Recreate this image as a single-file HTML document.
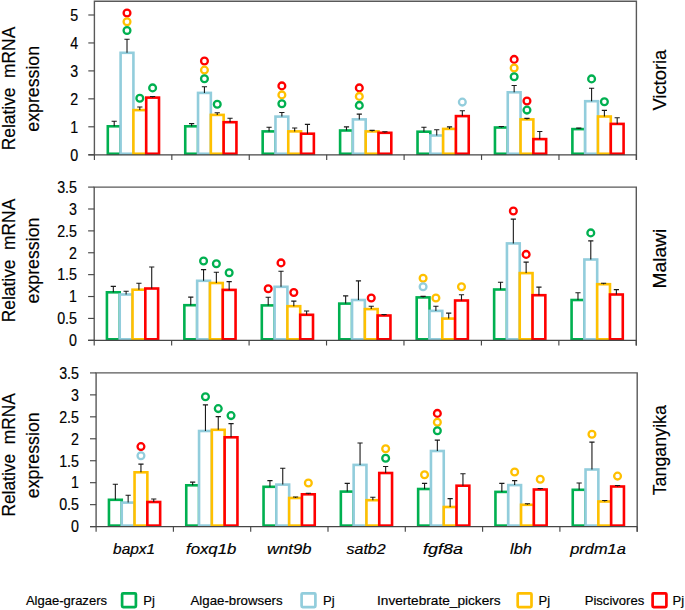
<!DOCTYPE html><html><head><meta charset="utf-8"><style>html,body{margin:0;padding:0;background:#fff;width:685px;height:610px;overflow:hidden}svg{display:block}text{font-family:"Liberation Sans",sans-serif;fill:#000;stroke:#000;stroke-width:0.18px}</style></head><body>
<svg width="685" height="610" viewBox="0 0 685 610">
<rect width="685" height="610" fill="#fff"/>
<rect x="107.81" y="126.30" width="12.80" height="27.45" fill="#fff" stroke="#00B050" stroke-width="2.6"/>
<rect x="120.61" y="52.80" width="12.80" height="100.95" fill="#fff" stroke="#92CDDC" stroke-width="2.6"/>
<rect x="133.41" y="110.10" width="12.80" height="43.65" fill="#fff" stroke="#FFC000" stroke-width="2.6"/>
<rect x="146.21" y="97.60" width="12.80" height="56.15" fill="#fff" stroke="#FF0000" stroke-width="2.6"/>
<rect x="185.24" y="126.30" width="12.80" height="27.45" fill="#fff" stroke="#00B050" stroke-width="2.6"/>
<rect x="198.04" y="92.90" width="12.80" height="60.85" fill="#fff" stroke="#92CDDC" stroke-width="2.6"/>
<rect x="210.84" y="114.90" width="12.80" height="38.85" fill="#fff" stroke="#FFC000" stroke-width="2.6"/>
<rect x="223.64" y="122.20" width="12.80" height="31.55" fill="#fff" stroke="#FF0000" stroke-width="2.6"/>
<rect x="262.67" y="131.40" width="12.80" height="22.35" fill="#fff" stroke="#00B050" stroke-width="2.6"/>
<rect x="275.47" y="116.60" width="12.80" height="37.15" fill="#fff" stroke="#92CDDC" stroke-width="2.6"/>
<rect x="288.27" y="131.40" width="12.80" height="22.35" fill="#fff" stroke="#FFC000" stroke-width="2.6"/>
<rect x="301.07" y="133.70" width="12.80" height="20.05" fill="#fff" stroke="#FF0000" stroke-width="2.6"/>
<rect x="340.10" y="130.50" width="12.80" height="23.25" fill="#fff" stroke="#00B050" stroke-width="2.6"/>
<rect x="352.90" y="119.40" width="12.80" height="34.35" fill="#fff" stroke="#92CDDC" stroke-width="2.6"/>
<rect x="365.70" y="131.40" width="12.80" height="22.35" fill="#fff" stroke="#FFC000" stroke-width="2.6"/>
<rect x="378.50" y="132.80" width="12.80" height="20.95" fill="#fff" stroke="#FF0000" stroke-width="2.6"/>
<rect x="417.53" y="131.70" width="12.80" height="22.05" fill="#fff" stroke="#00B050" stroke-width="2.6"/>
<rect x="430.33" y="135.50" width="12.80" height="18.25" fill="#fff" stroke="#92CDDC" stroke-width="2.6"/>
<rect x="443.13" y="128.90" width="12.80" height="24.85" fill="#fff" stroke="#FFC000" stroke-width="2.6"/>
<rect x="455.93" y="116.10" width="12.80" height="37.65" fill="#fff" stroke="#FF0000" stroke-width="2.6"/>
<rect x="494.96" y="127.50" width="12.80" height="26.25" fill="#fff" stroke="#00B050" stroke-width="2.6"/>
<rect x="507.76" y="92.30" width="12.80" height="61.45" fill="#fff" stroke="#92CDDC" stroke-width="2.6"/>
<rect x="520.56" y="119.40" width="12.80" height="34.35" fill="#fff" stroke="#FFC000" stroke-width="2.6"/>
<rect x="533.36" y="139.10" width="12.80" height="14.65" fill="#fff" stroke="#FF0000" stroke-width="2.6"/>
<rect x="572.39" y="129.10" width="12.80" height="24.65" fill="#fff" stroke="#00B050" stroke-width="2.6"/>
<rect x="585.19" y="101.20" width="12.80" height="52.55" fill="#fff" stroke="#92CDDC" stroke-width="2.6"/>
<rect x="597.99" y="116.50" width="12.80" height="37.25" fill="#fff" stroke="#FFC000" stroke-width="2.6"/>
<rect x="610.79" y="123.90" width="12.80" height="29.85" fill="#fff" stroke="#FF0000" stroke-width="2.6"/>
<path d="M114.21 126.30V121.30M111.61 121.30H116.81" stroke="#1a1a1a" stroke-width="1.1" fill="none"/>
<path d="M127.01 52.80V39.30M124.41 39.30H129.61" stroke="#1a1a1a" stroke-width="1.1" fill="none"/>
<path d="M139.81 110.10V107.00M137.21 107.00H142.41" stroke="#1a1a1a" stroke-width="1.1" fill="none"/>
<path d="M152.61 97.60V96.50M150.01 96.50H155.21" stroke="#1a1a1a" stroke-width="1.1" fill="none"/>
<path d="M191.64 126.30V123.60M189.04 123.60H194.24" stroke="#1a1a1a" stroke-width="1.1" fill="none"/>
<path d="M204.44 92.90V86.80M201.84 86.80H207.04" stroke="#1a1a1a" stroke-width="1.1" fill="none"/>
<path d="M217.24 114.90V112.70M214.64 112.70H219.84" stroke="#1a1a1a" stroke-width="1.1" fill="none"/>
<path d="M230.04 122.20V118.30M227.44 118.30H232.64" stroke="#1a1a1a" stroke-width="1.1" fill="none"/>
<path d="M269.07 131.40V127.20M266.47 127.20H271.67" stroke="#1a1a1a" stroke-width="1.1" fill="none"/>
<path d="M281.87 116.60V112.50M279.27 112.50H284.47" stroke="#1a1a1a" stroke-width="1.1" fill="none"/>
<path d="M294.67 131.40V128.00M292.07 128.00H297.27" stroke="#1a1a1a" stroke-width="1.1" fill="none"/>
<path d="M307.47 133.70V124.40M304.87 124.40H310.07" stroke="#1a1a1a" stroke-width="1.1" fill="none"/>
<path d="M346.50 130.50V126.90M343.90 126.90H349.10" stroke="#1a1a1a" stroke-width="1.1" fill="none"/>
<path d="M359.30 119.40V114.10M356.70 114.10H361.90" stroke="#1a1a1a" stroke-width="1.1" fill="none"/>
<path d="M372.10 131.40V130.40M369.50 130.40H374.70" stroke="#1a1a1a" stroke-width="1.1" fill="none"/>
<path d="M384.90 132.80V131.80M382.30 131.80H387.50" stroke="#1a1a1a" stroke-width="1.1" fill="none"/>
<path d="M423.93 131.70V127.20M421.33 127.20H426.53" stroke="#1a1a1a" stroke-width="1.1" fill="none"/>
<path d="M436.73 135.50V129.70M434.13 129.70H439.33" stroke="#1a1a1a" stroke-width="1.1" fill="none"/>
<path d="M449.53 128.90V126.90M446.93 126.90H452.13" stroke="#1a1a1a" stroke-width="1.1" fill="none"/>
<path d="M462.33 116.10V110.80M459.73 110.80H464.93" stroke="#1a1a1a" stroke-width="1.1" fill="none"/>
<path d="M501.36 127.50V126.50M498.76 126.50H503.96" stroke="#1a1a1a" stroke-width="1.1" fill="none"/>
<path d="M514.16 92.30V85.50M511.56 85.50H516.76" stroke="#1a1a1a" stroke-width="1.1" fill="none"/>
<path d="M526.96 119.40V118.40M524.36 118.40H529.56" stroke="#1a1a1a" stroke-width="1.1" fill="none"/>
<path d="M539.76 139.10V131.50M537.16 131.50H542.36" stroke="#1a1a1a" stroke-width="1.1" fill="none"/>
<path d="M578.79 129.10V128.10M576.19 128.10H581.39" stroke="#1a1a1a" stroke-width="1.1" fill="none"/>
<path d="M591.59 101.20V88.20M588.99 88.20H594.19" stroke="#1a1a1a" stroke-width="1.1" fill="none"/>
<path d="M604.39 116.50V110.40M601.79 110.40H606.99" stroke="#1a1a1a" stroke-width="1.1" fill="none"/>
<path d="M617.19 123.90V117.70M614.59 117.70H619.79" stroke="#1a1a1a" stroke-width="1.1" fill="none"/>
<path d="M94.4 154.75V1.3H636.4V159.95" stroke="#595959" stroke-width="1.4" fill="none"/>
<path d="M88.30 154.75H636.4" stroke="#464646" stroke-width="1.25" fill="none"/>
<path d="M88.30 154.75H94.4" stroke="#474747" stroke-width="1.15"/>
<text transform="translate(78.2 160.55) scale(0.88 1)" font-size="16.2" text-anchor="end">0</text>
<path d="M88.30 126.80H94.4" stroke="#474747" stroke-width="1.15"/>
<text transform="translate(78.2 132.60) scale(0.88 1)" font-size="16.2" text-anchor="end">1</text>
<path d="M88.30 98.85H94.4" stroke="#474747" stroke-width="1.15"/>
<text transform="translate(78.2 104.65) scale(0.88 1)" font-size="16.2" text-anchor="end">2</text>
<path d="M88.30 70.90H94.4" stroke="#474747" stroke-width="1.15"/>
<text transform="translate(78.2 76.70) scale(0.88 1)" font-size="16.2" text-anchor="end">3</text>
<path d="M88.30 42.95H94.4" stroke="#474747" stroke-width="1.15"/>
<text transform="translate(78.2 48.75) scale(0.88 1)" font-size="16.2" text-anchor="end">4</text>
<path d="M88.30 15.00H94.4" stroke="#474747" stroke-width="1.15"/>
<text transform="translate(78.2 20.80) scale(0.88 1)" font-size="16.2" text-anchor="end">5</text>
<path d="M94.40 154.75V159.95" stroke="#474747" stroke-width="1.15"/>
<path d="M171.83 154.75V159.95" stroke="#474747" stroke-width="1.15"/>
<path d="M249.26 154.75V159.95" stroke="#474747" stroke-width="1.15"/>
<path d="M326.69 154.75V159.95" stroke="#474747" stroke-width="1.15"/>
<path d="M404.11 154.75V159.95" stroke="#474747" stroke-width="1.15"/>
<path d="M481.54 154.75V159.95" stroke="#474747" stroke-width="1.15"/>
<path d="M558.97 154.75V159.95" stroke="#474747" stroke-width="1.15"/>
<path d="M636.40 154.75V159.95" stroke="#474747" stroke-width="1.15"/>
<circle cx="127.01" cy="13" r="3.4" fill="none" stroke="#FF0000" stroke-width="2.3"/>
<circle cx="127.01" cy="21.7" r="3.4" fill="none" stroke="#FFC000" stroke-width="2.3"/>
<circle cx="127.01" cy="30.5" r="3.4" fill="none" stroke="#00B050" stroke-width="2.3"/>
<circle cx="139.81" cy="98.3" r="3.4" fill="none" stroke="#00B050" stroke-width="2.3"/>
<circle cx="152.61" cy="87.9" r="3.4" fill="none" stroke="#00B050" stroke-width="2.3"/>
<circle cx="204.44" cy="61" r="3.4" fill="none" stroke="#FF0000" stroke-width="2.3"/>
<circle cx="204.44" cy="70.1" r="3.4" fill="none" stroke="#FFC000" stroke-width="2.3"/>
<circle cx="204.44" cy="78.7" r="3.4" fill="none" stroke="#00B050" stroke-width="2.3"/>
<circle cx="217.24" cy="104.3" r="3.4" fill="none" stroke="#00B050" stroke-width="2.3"/>
<circle cx="281.87" cy="85.9" r="3.4" fill="none" stroke="#FF0000" stroke-width="2.3"/>
<circle cx="281.87" cy="94.9" r="3.4" fill="none" stroke="#FFC000" stroke-width="2.3"/>
<circle cx="281.87" cy="103.8" r="3.4" fill="none" stroke="#00B050" stroke-width="2.3"/>
<circle cx="359.30" cy="87.9" r="3.4" fill="none" stroke="#FF0000" stroke-width="2.3"/>
<circle cx="359.30" cy="96.4" r="3.4" fill="none" stroke="#FFC000" stroke-width="2.3"/>
<circle cx="359.30" cy="105.4" r="3.4" fill="none" stroke="#00B050" stroke-width="2.3"/>
<circle cx="462.33" cy="102.1" r="3.4" fill="none" stroke="#92CDDC" stroke-width="2.3"/>
<circle cx="514.16" cy="59.4" r="3.4" fill="none" stroke="#FF0000" stroke-width="2.3"/>
<circle cx="514.16" cy="68" r="3.4" fill="none" stroke="#FFC000" stroke-width="2.3"/>
<circle cx="514.16" cy="76.7" r="3.4" fill="none" stroke="#00B050" stroke-width="2.3"/>
<circle cx="526.96" cy="101" r="3.4" fill="none" stroke="#FF0000" stroke-width="2.3"/>
<circle cx="526.96" cy="110.1" r="3.4" fill="none" stroke="#00B050" stroke-width="2.3"/>
<circle cx="591.59" cy="78.9" r="3.4" fill="none" stroke="#00B050" stroke-width="2.3"/>
<circle cx="604.39" cy="101.8" r="3.4" fill="none" stroke="#00B050" stroke-width="2.3"/>
<text transform="translate(15.0 88.5) rotate(-90)" font-size="17.5" text-anchor="middle" textLength="123.4" lengthAdjust="spacingAndGlyphs">Relative&#160;&#160;mRNA</text>
<text transform="translate(38.5 88.8) rotate(-90)" font-size="17.5" text-anchor="middle" textLength="85.8" lengthAdjust="spacingAndGlyphs">expression</text>
<text transform="translate(666.2 80.15) rotate(-90)" font-size="17.8" text-anchor="middle" textLength="60.8" lengthAdjust="spacingAndGlyphs">Victoria</text>
<rect x="106.92" y="292.30" width="12.80" height="47.00" fill="#fff" stroke="#00B050" stroke-width="2.6"/>
<rect x="119.72" y="294.50" width="12.80" height="44.80" fill="#fff" stroke="#92CDDC" stroke-width="2.6"/>
<rect x="132.52" y="289.70" width="12.80" height="49.60" fill="#fff" stroke="#FFC000" stroke-width="2.6"/>
<rect x="145.32" y="288.50" width="12.80" height="50.80" fill="#fff" stroke="#FF0000" stroke-width="2.6"/>
<rect x="184.36" y="305.20" width="12.80" height="34.10" fill="#fff" stroke="#00B050" stroke-width="2.6"/>
<rect x="197.16" y="280.80" width="12.80" height="58.50" fill="#fff" stroke="#92CDDC" stroke-width="2.6"/>
<rect x="209.96" y="283.00" width="12.80" height="56.30" fill="#fff" stroke="#FFC000" stroke-width="2.6"/>
<rect x="222.76" y="289.90" width="12.80" height="49.40" fill="#fff" stroke="#FF0000" stroke-width="2.6"/>
<rect x="261.81" y="305.40" width="12.80" height="33.90" fill="#fff" stroke="#00B050" stroke-width="2.6"/>
<rect x="274.61" y="286.80" width="12.80" height="52.50" fill="#fff" stroke="#92CDDC" stroke-width="2.6"/>
<rect x="287.41" y="306.20" width="12.80" height="33.10" fill="#fff" stroke="#FFC000" stroke-width="2.6"/>
<rect x="300.21" y="314.80" width="12.80" height="24.50" fill="#fff" stroke="#FF0000" stroke-width="2.6"/>
<rect x="339.25" y="303.60" width="12.80" height="35.70" fill="#fff" stroke="#00B050" stroke-width="2.6"/>
<rect x="352.05" y="300.00" width="12.80" height="39.30" fill="#fff" stroke="#92CDDC" stroke-width="2.6"/>
<rect x="364.85" y="309.10" width="12.80" height="30.20" fill="#fff" stroke="#FFC000" stroke-width="2.6"/>
<rect x="377.65" y="315.50" width="12.80" height="23.80" fill="#fff" stroke="#FF0000" stroke-width="2.6"/>
<rect x="416.69" y="297.40" width="12.80" height="41.90" fill="#fff" stroke="#00B050" stroke-width="2.6"/>
<rect x="429.49" y="310.90" width="12.80" height="28.40" fill="#fff" stroke="#92CDDC" stroke-width="2.6"/>
<rect x="442.29" y="318.60" width="12.80" height="20.70" fill="#fff" stroke="#FFC000" stroke-width="2.6"/>
<rect x="455.09" y="300.50" width="12.80" height="38.80" fill="#fff" stroke="#FF0000" stroke-width="2.6"/>
<rect x="494.14" y="289.50" width="12.80" height="49.80" fill="#fff" stroke="#00B050" stroke-width="2.6"/>
<rect x="506.94" y="243.40" width="12.80" height="95.90" fill="#fff" stroke="#92CDDC" stroke-width="2.6"/>
<rect x="519.74" y="273.10" width="12.80" height="66.20" fill="#fff" stroke="#FFC000" stroke-width="2.6"/>
<rect x="532.54" y="295.20" width="12.80" height="44.10" fill="#fff" stroke="#FF0000" stroke-width="2.6"/>
<rect x="571.58" y="300.00" width="12.80" height="39.30" fill="#fff" stroke="#00B050" stroke-width="2.6"/>
<rect x="584.38" y="259.50" width="12.80" height="79.80" fill="#fff" stroke="#92CDDC" stroke-width="2.6"/>
<rect x="597.18" y="284.20" width="12.80" height="55.10" fill="#fff" stroke="#FFC000" stroke-width="2.6"/>
<rect x="609.98" y="294.50" width="12.80" height="44.80" fill="#fff" stroke="#FF0000" stroke-width="2.6"/>
<path d="M113.32 292.30V286.40M110.72 286.40H115.92" stroke="#1a1a1a" stroke-width="1.1" fill="none"/>
<path d="M126.12 294.50V291.30M123.52 291.30H128.72" stroke="#1a1a1a" stroke-width="1.1" fill="none"/>
<path d="M138.92 289.70V283.30M136.32 283.30H141.52" stroke="#1a1a1a" stroke-width="1.1" fill="none"/>
<path d="M151.72 288.50V267.00M149.12 267.00H154.32" stroke="#1a1a1a" stroke-width="1.1" fill="none"/>
<path d="M190.76 305.20V297.10M188.16 297.10H193.36" stroke="#1a1a1a" stroke-width="1.1" fill="none"/>
<path d="M203.56 280.80V269.60M200.96 269.60H206.16" stroke="#1a1a1a" stroke-width="1.1" fill="none"/>
<path d="M216.36 283.00V272.20M213.76 272.20H218.96" stroke="#1a1a1a" stroke-width="1.1" fill="none"/>
<path d="M229.16 289.90V281.60M226.56 281.60H231.76" stroke="#1a1a1a" stroke-width="1.1" fill="none"/>
<path d="M268.21 305.40V297.30M265.61 297.30H270.81" stroke="#1a1a1a" stroke-width="1.1" fill="none"/>
<path d="M281.01 286.80V271.30M278.41 271.30H283.61" stroke="#1a1a1a" stroke-width="1.1" fill="none"/>
<path d="M293.81 306.20V301.10M291.21 301.10H296.41" stroke="#1a1a1a" stroke-width="1.1" fill="none"/>
<path d="M306.61 314.80V311.00M304.01 311.00H309.21" stroke="#1a1a1a" stroke-width="1.1" fill="none"/>
<path d="M345.65 303.60V295.90M343.05 295.90H348.25" stroke="#1a1a1a" stroke-width="1.1" fill="none"/>
<path d="M358.45 300.00V280.90M355.85 280.90H361.05" stroke="#1a1a1a" stroke-width="1.1" fill="none"/>
<path d="M371.25 309.10V306.20M368.65 306.20H373.85" stroke="#1a1a1a" stroke-width="1.1" fill="none"/>
<path d="M384.05 315.50V314.50M381.45 314.50H386.65" stroke="#1a1a1a" stroke-width="1.1" fill="none"/>
<path d="M423.09 297.40V296.40M420.49 296.40H425.69" stroke="#1a1a1a" stroke-width="1.1" fill="none"/>
<path d="M435.89 310.90V306.20M433.29 306.20H438.49" stroke="#1a1a1a" stroke-width="1.1" fill="none"/>
<path d="M448.69 318.60V313.10M446.09 313.10H451.29" stroke="#1a1a1a" stroke-width="1.1" fill="none"/>
<path d="M461.49 300.50V294.70M458.89 294.70H464.09" stroke="#1a1a1a" stroke-width="1.1" fill="none"/>
<path d="M500.54 289.50V282.20M497.94 282.20H503.14" stroke="#1a1a1a" stroke-width="1.1" fill="none"/>
<path d="M513.34 243.40V219.10M510.74 219.10H515.94" stroke="#1a1a1a" stroke-width="1.1" fill="none"/>
<path d="M526.14 273.10V262.10M523.54 262.10H528.74" stroke="#1a1a1a" stroke-width="1.1" fill="none"/>
<path d="M538.94 295.20V287.10M536.34 287.10H541.54" stroke="#1a1a1a" stroke-width="1.1" fill="none"/>
<path d="M577.98 300.00V292.70M575.38 292.70H580.58" stroke="#1a1a1a" stroke-width="1.1" fill="none"/>
<path d="M590.78 259.50V240.90M588.18 240.90H593.38" stroke="#1a1a1a" stroke-width="1.1" fill="none"/>
<path d="M603.58 284.20V283.20M600.98 283.20H606.18" stroke="#1a1a1a" stroke-width="1.1" fill="none"/>
<path d="M616.38 294.50V289.60M613.78 289.60H618.98" stroke="#1a1a1a" stroke-width="1.1" fill="none"/>
<path d="M94.2 340.3V187.1H636.3V345.5" stroke="#595959" stroke-width="1.4" fill="none"/>
<path d="M88.10 340.3H636.3" stroke="#464646" stroke-width="1.25" fill="none"/>
<path d="M88.10 340.30H94.2" stroke="#474747" stroke-width="1.15"/>
<text transform="translate(77.0 346.10) scale(0.88 1)" font-size="16.2" text-anchor="end">0</text>
<path d="M88.10 318.42H94.2" stroke="#474747" stroke-width="1.15"/>
<text transform="translate(77.0 324.22) scale(0.88 1)" font-size="16.2" text-anchor="end">0.5</text>
<path d="M88.10 296.53H94.2" stroke="#474747" stroke-width="1.15"/>
<text transform="translate(77.0 302.33) scale(0.88 1)" font-size="16.2" text-anchor="end">1</text>
<path d="M88.10 274.64H94.2" stroke="#474747" stroke-width="1.15"/>
<text transform="translate(77.0 280.44) scale(0.88 1)" font-size="16.2" text-anchor="end">1.5</text>
<path d="M88.10 252.76H94.2" stroke="#474747" stroke-width="1.15"/>
<text transform="translate(77.0 258.56) scale(0.88 1)" font-size="16.2" text-anchor="end">2</text>
<path d="M88.10 230.88H94.2" stroke="#474747" stroke-width="1.15"/>
<text transform="translate(77.0 236.68) scale(0.88 1)" font-size="16.2" text-anchor="end">2.5</text>
<path d="M88.10 208.99H94.2" stroke="#474747" stroke-width="1.15"/>
<text transform="translate(77.0 214.79) scale(0.88 1)" font-size="16.2" text-anchor="end">3</text>
<path d="M88.10 187.10H94.2" stroke="#474747" stroke-width="1.15"/>
<text transform="translate(77.0 192.91) scale(0.88 1)" font-size="16.2" text-anchor="end">3.5</text>
<path d="M94.20 340.3V345.5" stroke="#474747" stroke-width="1.15"/>
<path d="M171.64 340.3V345.5" stroke="#474747" stroke-width="1.15"/>
<path d="M249.09 340.3V345.5" stroke="#474747" stroke-width="1.15"/>
<path d="M326.53 340.3V345.5" stroke="#474747" stroke-width="1.15"/>
<path d="M403.97 340.3V345.5" stroke="#474747" stroke-width="1.15"/>
<path d="M481.41 340.3V345.5" stroke="#474747" stroke-width="1.15"/>
<path d="M558.86 340.3V345.5" stroke="#474747" stroke-width="1.15"/>
<path d="M636.30 340.3V345.5" stroke="#474747" stroke-width="1.15"/>
<circle cx="203.56" cy="261" r="3.4" fill="none" stroke="#00B050" stroke-width="2.3"/>
<circle cx="216.36" cy="263.7" r="3.4" fill="none" stroke="#00B050" stroke-width="2.3"/>
<circle cx="229.16" cy="272.7" r="3.4" fill="none" stroke="#00B050" stroke-width="2.3"/>
<circle cx="268.21" cy="288.7" r="3.4" fill="none" stroke="#FF0000" stroke-width="2.3"/>
<circle cx="281.01" cy="262.9" r="3.4" fill="none" stroke="#FF0000" stroke-width="2.3"/>
<circle cx="293.81" cy="292.5" r="3.4" fill="none" stroke="#FF0000" stroke-width="2.3"/>
<circle cx="371.25" cy="298" r="3.4" fill="none" stroke="#FF0000" stroke-width="2.3"/>
<circle cx="423.09" cy="278.2" r="3.4" fill="none" stroke="#FFC000" stroke-width="2.3"/>
<circle cx="423.09" cy="286.8" r="3.4" fill="none" stroke="#92CDDC" stroke-width="2.3"/>
<circle cx="435.89" cy="298" r="3.4" fill="none" stroke="#FFC000" stroke-width="2.3"/>
<circle cx="461.49" cy="286.8" r="3.4" fill="none" stroke="#FFC000" stroke-width="2.3"/>
<circle cx="513.34" cy="211" r="3.4" fill="none" stroke="#FF0000" stroke-width="2.3"/>
<circle cx="526.14" cy="254.4" r="3.4" fill="none" stroke="#FF0000" stroke-width="2.3"/>
<circle cx="590.78" cy="232.9" r="3.4" fill="none" stroke="#00B050" stroke-width="2.3"/>
<text transform="translate(15.0 260.5) rotate(-90)" font-size="17.5" text-anchor="middle" textLength="123.4" lengthAdjust="spacingAndGlyphs">Relative&#160;&#160;mRNA</text>
<text transform="translate(38.5 260.5) rotate(-90)" font-size="17.5" text-anchor="middle" textLength="85.8" lengthAdjust="spacingAndGlyphs">expression</text>
<text transform="translate(666.2 258.65) rotate(-90)" font-size="17.8" text-anchor="middle" textLength="59.7" lengthAdjust="spacingAndGlyphs">Malawi</text>
<rect x="108.95" y="499.80" width="12.80" height="25.80" fill="#fff" stroke="#00B050" stroke-width="2.6"/>
<rect x="121.75" y="502.60" width="12.80" height="23.00" fill="#fff" stroke="#92CDDC" stroke-width="2.6"/>
<rect x="134.55" y="472.30" width="12.80" height="53.30" fill="#fff" stroke="#FFC000" stroke-width="2.6"/>
<rect x="147.35" y="502.00" width="12.80" height="23.60" fill="#fff" stroke="#FF0000" stroke-width="2.6"/>
<rect x="186.25" y="485.30" width="12.80" height="40.30" fill="#fff" stroke="#00B050" stroke-width="2.6"/>
<rect x="199.05" y="431.00" width="12.80" height="94.60" fill="#fff" stroke="#92CDDC" stroke-width="2.6"/>
<rect x="211.85" y="429.80" width="12.80" height="95.80" fill="#fff" stroke="#FFC000" stroke-width="2.6"/>
<rect x="224.65" y="437.30" width="12.80" height="88.30" fill="#fff" stroke="#FF0000" stroke-width="2.6"/>
<rect x="263.55" y="486.80" width="12.80" height="38.80" fill="#fff" stroke="#00B050" stroke-width="2.6"/>
<rect x="276.35" y="484.60" width="12.80" height="41.00" fill="#fff" stroke="#92CDDC" stroke-width="2.6"/>
<rect x="289.15" y="498.00" width="12.80" height="27.60" fill="#fff" stroke="#FFC000" stroke-width="2.6"/>
<rect x="301.95" y="494.30" width="12.80" height="31.30" fill="#fff" stroke="#FF0000" stroke-width="2.6"/>
<rect x="340.85" y="491.60" width="12.80" height="34.00" fill="#fff" stroke="#00B050" stroke-width="2.6"/>
<rect x="353.65" y="464.90" width="12.80" height="60.70" fill="#fff" stroke="#92CDDC" stroke-width="2.6"/>
<rect x="366.45" y="500.20" width="12.80" height="25.40" fill="#fff" stroke="#FFC000" stroke-width="2.6"/>
<rect x="379.25" y="473.00" width="12.80" height="52.60" fill="#fff" stroke="#FF0000" stroke-width="2.6"/>
<rect x="418.15" y="489.00" width="12.80" height="36.60" fill="#fff" stroke="#00B050" stroke-width="2.6"/>
<rect x="430.95" y="451.00" width="12.80" height="74.60" fill="#fff" stroke="#92CDDC" stroke-width="2.6"/>
<rect x="443.75" y="507.00" width="12.80" height="18.60" fill="#fff" stroke="#FFC000" stroke-width="2.6"/>
<rect x="456.55" y="485.70" width="12.80" height="39.90" fill="#fff" stroke="#FF0000" stroke-width="2.6"/>
<rect x="495.45" y="491.90" width="12.80" height="33.70" fill="#fff" stroke="#00B050" stroke-width="2.6"/>
<rect x="508.25" y="485.10" width="12.80" height="40.50" fill="#fff" stroke="#92CDDC" stroke-width="2.6"/>
<rect x="521.05" y="504.80" width="12.80" height="20.80" fill="#fff" stroke="#FFC000" stroke-width="2.6"/>
<rect x="533.85" y="489.50" width="12.80" height="36.10" fill="#fff" stroke="#FF0000" stroke-width="2.6"/>
<rect x="572.75" y="489.80" width="12.80" height="35.80" fill="#fff" stroke="#00B050" stroke-width="2.6"/>
<rect x="585.55" y="469.50" width="12.80" height="56.10" fill="#fff" stroke="#92CDDC" stroke-width="2.6"/>
<rect x="598.35" y="501.50" width="12.80" height="24.10" fill="#fff" stroke="#FFC000" stroke-width="2.6"/>
<rect x="611.15" y="486.50" width="12.80" height="39.10" fill="#fff" stroke="#FF0000" stroke-width="2.6"/>
<path d="M115.35 499.80V484.30M112.75 484.30H117.95" stroke="#1a1a1a" stroke-width="1.1" fill="none"/>
<path d="M128.15 502.60V495.30M125.55 495.30H130.75" stroke="#1a1a1a" stroke-width="1.1" fill="none"/>
<path d="M140.95 472.30V464.10M138.35 464.10H143.55" stroke="#1a1a1a" stroke-width="1.1" fill="none"/>
<path d="M153.75 502.00V499.00M151.15 499.00H156.35" stroke="#1a1a1a" stroke-width="1.1" fill="none"/>
<path d="M192.65 485.30V482.10M190.05 482.10H195.25" stroke="#1a1a1a" stroke-width="1.1" fill="none"/>
<path d="M205.45 431.00V404.90M202.85 404.90H208.05" stroke="#1a1a1a" stroke-width="1.1" fill="none"/>
<path d="M218.25 429.80V416.60M215.65 416.60H220.85" stroke="#1a1a1a" stroke-width="1.1" fill="none"/>
<path d="M231.05 437.30V423.60M228.45 423.60H233.65" stroke="#1a1a1a" stroke-width="1.1" fill="none"/>
<path d="M269.95 486.80V480.60M267.35 480.60H272.55" stroke="#1a1a1a" stroke-width="1.1" fill="none"/>
<path d="M282.75 484.60V468.30M280.15 468.30H285.35" stroke="#1a1a1a" stroke-width="1.1" fill="none"/>
<path d="M295.55 498.00V497.00M292.95 497.00H298.15" stroke="#1a1a1a" stroke-width="1.1" fill="none"/>
<path d="M308.35 494.30V493.30M305.75 493.30H310.95" stroke="#1a1a1a" stroke-width="1.1" fill="none"/>
<path d="M347.25 491.60V483.40M344.65 483.40H349.85" stroke="#1a1a1a" stroke-width="1.1" fill="none"/>
<path d="M360.05 464.90V443.00M357.45 443.00H362.65" stroke="#1a1a1a" stroke-width="1.1" fill="none"/>
<path d="M372.85 500.20V497.20M370.25 497.20H375.45" stroke="#1a1a1a" stroke-width="1.1" fill="none"/>
<path d="M385.65 473.00V466.50M383.05 466.50H388.25" stroke="#1a1a1a" stroke-width="1.1" fill="none"/>
<path d="M424.55 489.00V483.40M421.95 483.40H427.15" stroke="#1a1a1a" stroke-width="1.1" fill="none"/>
<path d="M437.35 451.00V440.10M434.75 440.10H439.95" stroke="#1a1a1a" stroke-width="1.1" fill="none"/>
<path d="M450.15 507.00V498.60M447.55 498.60H452.75" stroke="#1a1a1a" stroke-width="1.1" fill="none"/>
<path d="M462.95 485.70V473.70M460.35 473.70H465.55" stroke="#1a1a1a" stroke-width="1.1" fill="none"/>
<path d="M501.85 491.90V483.40M499.25 483.40H504.45" stroke="#1a1a1a" stroke-width="1.1" fill="none"/>
<path d="M514.65 485.10V480.60M512.05 480.60H517.25" stroke="#1a1a1a" stroke-width="1.1" fill="none"/>
<path d="M527.45 504.80V503.80M524.85 503.80H530.05" stroke="#1a1a1a" stroke-width="1.1" fill="none"/>
<path d="M540.25 489.50V488.50M537.65 488.50H542.85" stroke="#1a1a1a" stroke-width="1.1" fill="none"/>
<path d="M579.15 489.80V483.00M576.55 483.00H581.75" stroke="#1a1a1a" stroke-width="1.1" fill="none"/>
<path d="M591.95 469.50V442.10M589.35 442.10H594.55" stroke="#1a1a1a" stroke-width="1.1" fill="none"/>
<path d="M604.75 501.50V500.50M602.15 500.50H607.35" stroke="#1a1a1a" stroke-width="1.1" fill="none"/>
<path d="M617.55 486.50V485.50M614.95 485.50H620.15" stroke="#1a1a1a" stroke-width="1.1" fill="none"/>
<path d="M96.1 526.6V372.9H637.2V531.8000000000001" stroke="#595959" stroke-width="1.4" fill="none"/>
<path d="M90.00 526.6H637.2" stroke="#464646" stroke-width="1.25" fill="none"/>
<path d="M90.00 526.60H96.1" stroke="#474747" stroke-width="1.15"/>
<text transform="translate(79.0 532.40) scale(0.88 1)" font-size="16.2" text-anchor="end">0</text>
<path d="M90.00 504.65H96.1" stroke="#474747" stroke-width="1.15"/>
<text transform="translate(79.0 510.45) scale(0.88 1)" font-size="16.2" text-anchor="end">0.5</text>
<path d="M90.00 482.69H96.1" stroke="#474747" stroke-width="1.15"/>
<text transform="translate(79.0 488.49) scale(0.88 1)" font-size="16.2" text-anchor="end">1</text>
<path d="M90.00 460.74H96.1" stroke="#474747" stroke-width="1.15"/>
<text transform="translate(79.0 466.54) scale(0.88 1)" font-size="16.2" text-anchor="end">1.5</text>
<path d="M90.00 438.78H96.1" stroke="#474747" stroke-width="1.15"/>
<text transform="translate(79.0 444.58) scale(0.88 1)" font-size="16.2" text-anchor="end">2</text>
<path d="M90.00 416.83H96.1" stroke="#474747" stroke-width="1.15"/>
<text transform="translate(79.0 422.63) scale(0.88 1)" font-size="16.2" text-anchor="end">2.5</text>
<path d="M90.00 394.87H96.1" stroke="#474747" stroke-width="1.15"/>
<text transform="translate(79.0 400.67) scale(0.88 1)" font-size="16.2" text-anchor="end">3</text>
<path d="M90.00 372.92H96.1" stroke="#474747" stroke-width="1.15"/>
<text transform="translate(79.0 378.72) scale(0.88 1)" font-size="16.2" text-anchor="end">3.5</text>
<path d="M96.10 526.6V531.8000000000001" stroke="#474747" stroke-width="1.15"/>
<path d="M173.40 526.6V531.8000000000001" stroke="#474747" stroke-width="1.15"/>
<path d="M250.70 526.6V531.8000000000001" stroke="#474747" stroke-width="1.15"/>
<path d="M328.00 526.6V531.8000000000001" stroke="#474747" stroke-width="1.15"/>
<path d="M405.30 526.6V531.8000000000001" stroke="#474747" stroke-width="1.15"/>
<path d="M482.60 526.6V531.8000000000001" stroke="#474747" stroke-width="1.15"/>
<path d="M559.90 526.6V531.8000000000001" stroke="#474747" stroke-width="1.15"/>
<path d="M637.20 526.6V531.8000000000001" stroke="#474747" stroke-width="1.15"/>
<circle cx="140.95" cy="446.6" r="3.4" fill="none" stroke="#FF0000" stroke-width="2.3"/>
<circle cx="140.95" cy="455.8" r="3.4" fill="none" stroke="#92CDDC" stroke-width="2.3"/>
<circle cx="205.45" cy="396.7" r="3.4" fill="none" stroke="#00B050" stroke-width="2.3"/>
<circle cx="218.25" cy="408.6" r="3.4" fill="none" stroke="#00B050" stroke-width="2.3"/>
<circle cx="231.05" cy="415.6" r="3.4" fill="none" stroke="#00B050" stroke-width="2.3"/>
<circle cx="308.35" cy="483" r="3.4" fill="none" stroke="#FFC000" stroke-width="2.3"/>
<circle cx="385.65" cy="448.8" r="3.4" fill="none" stroke="#FFC000" stroke-width="2.3"/>
<circle cx="385.65" cy="458.2" r="3.4" fill="none" stroke="#00B050" stroke-width="2.3"/>
<circle cx="424.55" cy="474.8" r="3.4" fill="none" stroke="#FFC000" stroke-width="2.3"/>
<circle cx="437.35" cy="413.4" r="3.4" fill="none" stroke="#FF0000" stroke-width="2.3"/>
<circle cx="437.35" cy="422.3" r="3.4" fill="none" stroke="#FFC000" stroke-width="2.3"/>
<circle cx="437.35" cy="430.8" r="3.4" fill="none" stroke="#00B050" stroke-width="2.3"/>
<circle cx="514.65" cy="472" r="3.4" fill="none" stroke="#FFC000" stroke-width="2.3"/>
<circle cx="540.25" cy="479.2" r="3.4" fill="none" stroke="#FFC000" stroke-width="2.3"/>
<circle cx="591.95" cy="434.2" r="3.4" fill="none" stroke="#FFC000" stroke-width="2.3"/>
<circle cx="617.55" cy="476.1" r="3.4" fill="none" stroke="#FFC000" stroke-width="2.3"/>
<text transform="translate(15.0 454.9) rotate(-90)" font-size="17.5" text-anchor="middle" textLength="123.4" lengthAdjust="spacingAndGlyphs">Relative&#160;&#160;mRNA</text>
<text transform="translate(38.5 455.25) rotate(-90)" font-size="17.5" text-anchor="middle" textLength="85.8" lengthAdjust="spacingAndGlyphs">expression</text>
<text transform="translate(666.2 450.2) rotate(-90)" font-size="17.8" text-anchor="middle" textLength="90.3" lengthAdjust="spacingAndGlyphs">Tanganyika</text>
<text x="134.15" y="554.3" font-size="15.5" font-style="italic" text-anchor="middle" textLength="42.1" lengthAdjust="spacingAndGlyphs">bapx1</text>
<text x="211.15" y="554.3" font-size="15.5" font-style="italic" text-anchor="middle" textLength="50.3" lengthAdjust="spacingAndGlyphs">foxq1b</text>
<text x="289.20" y="554.3" font-size="15.5" font-style="italic" text-anchor="middle" textLength="44.4" lengthAdjust="spacingAndGlyphs">wnt9b</text>
<text x="366.05" y="554.3" font-size="15.5" font-style="italic" text-anchor="middle" textLength="39.1" lengthAdjust="spacingAndGlyphs">satb2</text>
<text x="443.00" y="554.3" font-size="15.5" font-style="italic" text-anchor="middle" textLength="39.8" lengthAdjust="spacingAndGlyphs">fgf8a</text>
<text x="521.00" y="554.3" font-size="15.5" font-style="italic" text-anchor="middle" textLength="21.8" lengthAdjust="spacingAndGlyphs">lbh</text>
<text x="598.05" y="554.3" font-size="15.5" font-style="italic" text-anchor="middle" textLength="55.7" lengthAdjust="spacingAndGlyphs">prdm1a</text>
<text x="25.9" y="604.6" font-size="13" textLength="81.1" lengthAdjust="spacingAndGlyphs">Algae-grazers</text>
<rect x="122.1" y="593.3" width="13.8" height="13.8" rx="1" fill="#fff" stroke="#00B050" stroke-width="2.7"/>
<text x="143.3" y="604.6" font-size="13">Pj</text>
<text x="190.5" y="604.6" font-size="13" textLength="92.1" lengthAdjust="spacingAndGlyphs">Algae-browsers</text>
<rect x="301.6" y="593.3" width="13.8" height="13.8" rx="1" fill="#fff" stroke="#92CDDC" stroke-width="2.7"/>
<text x="323.0" y="604.6" font-size="13">Pj</text>
<text x="377.0" y="604.6" font-size="13" textLength="123.6" lengthAdjust="spacingAndGlyphs">Invertebrate_pickers</text>
<rect x="517.7" y="593.3" width="13.8" height="13.8" rx="1" fill="#fff" stroke="#FFC000" stroke-width="2.7"/>
<text x="538.5" y="604.6" font-size="13">Pj</text>
<text x="584.7" y="604.6" font-size="13" textLength="59.6" lengthAdjust="spacingAndGlyphs">Piscivores</text>
<rect x="652.6" y="593.3" width="13.8" height="13.8" rx="1" fill="#fff" stroke="#FF0000" stroke-width="2.7"/>
<text x="672.6" y="604.6" font-size="13">Pj</text>
</svg></body></html>
